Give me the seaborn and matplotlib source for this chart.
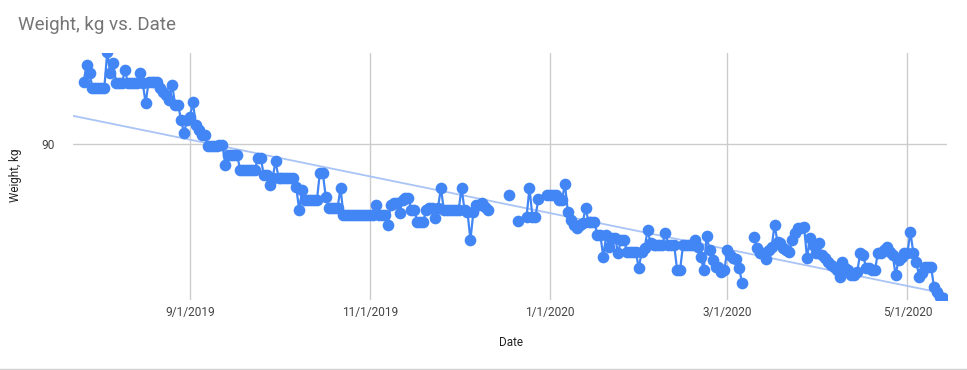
import numpy as np
import pandas as pd
import matplotlib
matplotlib.use("Agg")
import matplotlib.pyplot as plt
import matplotlib.dates as mdates
from matplotlib.lines import Line2D
import seaborn as sns

# ---------------- data ----------------
start_date = "2019-07-27"
# daily weight readings (kg); None = no reading that day
weights = [
    93.1, 93.95, 93.55, 92.8, 92.8, 92.8, 92.8, 92.8, 94.6, 93.55,
    94.05, 93.05, 93.05, 93.05, 93.7, 93.05, 93.05, 93.05, 93.05, 93.55,
    93.05, 92.05, 93.1, 93.1, 93.1, 93.1, 92.8, 92.6, 92.45, 92.2,
    92.95, 91.95, 91.95, 91.2, 90.55, 91.2, 91.35, 92.1, 90.95, 90.7,
    90.45, 90.45, 89.9, 89.9, 89.9, 89.9, 89.95, 89.95, 88.95, 89.45,
    89.45, 89.45, 89.45, 88.7, 88.7, 88.7, 88.7, 88.7, 88.7, 89.3,
    89.3, 88.45, 88.45, 87.95, 88.3, 89.15, 88.3, 88.3, 88.3, 88.3,
    88.3, 88.3, 87.85, 86.7, 87.7, 87.2, 87.2, 87.2, 87.2, 87.2,
    88.55, 88.55, 87.35, 86.8, 86.8, 86.8, 86.8, 87.8, 86.45, 86.45,
    86.45, 86.45, 86.45, 86.45, 86.45, 86.45, 86.45, 86.45, 86.45, 86.95,
    86.45, 86.45, 86.45, 85.95, 86.95, 87.05, 87.05, 86.55, 87.2, 87.3,
    87.3, 86.7, 86.7, 86.1, 86.1, 86.1, 86.7, 86.8, 86.8, 86.3,
    86.8, 87.8, 86.7, 86.7, 86.7, 86.7, 86.7, 86.7, 87.8, 86.7,
    86.6, 85.2, 86.6, 86.95, 86.95, 87.05, 86.85, 86.7, None, None,
    None, None, None, None, 87.45, None, None, 86.15, None, None,
    86.35, 87.8, 86.35, 86.35, 87.25, None, None, 87.45, 87.45, 87.45,
    87.45, 87.2, 87.2, 88.0, 86.6, 86.2, 85.95, 85.8, 85.95, 86.05,
    86.8, 86.1, 86.1, 86.1, 85.45, 85.45, 84.35, 85.45, 84.85, 85.3,
    85.3, 84.55, 85.2, 85.2, 84.6, 84.6, 84.6, 84.6, 83.8, 84.6,
    84.8, 85.7, 85.05, 84.95, 84.95, 84.95, 84.95, 85.55, 84.95, 84.95,
    84.95, 83.7, 83.7, 84.95, 84.95, 84.95, 84.95, 85.2, 84.85, 84.35,
    83.7, 85.4, 84.7, 84.2, 83.85, 83.85, 83.6, 83.7, 84.7, 84.45,
    84.3, 84.25, 83.8, 83.05, None, None, None, 85.35, 84.8, 84.55,
    84.55, 84.25, 84.7, 84.85, 85.95, 85.1, 85.05, 84.8, 84.7, 84.6,
    85.2, 85.55, 85.8, 85.8, 85.85, 84.3, 85.3, 84.95, 84.55, 85.05,
    84.45, 84.3, 84.1, 83.95, 83.85, 83.7, 83.35, 84.1, 83.8, 83.7,
    83.45, 83.45, 83.6, 84.55, 84.45, 83.8, 83.8, 83.7, 83.7, 84.55,
    84.55, 84.7, 84.85, 84.6, 84.45, 83.45, 84.2, 84.35, 84.55, 84.55,
    85.6, 84.55, 84.1, 83.35, 83.55, 83.85, 83.85, 83.85, 82.85, 82.6,
    82.35, 82.3,
]
tick_dates = ["2019-09-01", "2019-11-01", "2020-01-01", "2020-03-01", "2020-05-01"]
tick_labels = ["9/1/2019", "11/1/2019", "1/1/2020", "3/1/2020", "5/1/2020"]
y_ticks = [90]

# ---------------- frame ----------------
dates = pd.date_range(start_date, periods=len(weights), freq="D")
df = pd.DataFrame({"date": dates, "weight": pd.to_numeric(pd.Series(weights), errors="coerce")})
df["x"] = mdates.date2num(df["date"])
df["segment"] = df["weight"].isna().cumsum()
obs = df.dropna().copy()

sns.set_theme(style="white")
plt.rcParams["font.family"] = ["Roboto", "DejaVu Sans"]

W, H = 967, 370
fig = plt.figure(figsize=(W / 100, H / 100), dpi=100)
L, R, T, B = 73, 947, 53, 300
ax = fig.add_axes([L / W, 1 - B / H, (R - L) / W, (B - T) / H])

x0 = mdates.date2num(pd.Timestamp(start_date))
ax.set_xlim(x0 - 3.6, x0 + 292.4)
ax.set_ylim(82.2, 94.55)

# trendline
sns.regplot(data=obs, x="x", y="weight", scatter=False, ci=None, truncate=False,
            line_kws=dict(color="#a9c4f5", lw=1.3, zorder=2), ax=ax)

# data line + markers
sns.lineplot(data=obs, x="x", y="weight", units="segment", estimator=None,
             color="#4285f4", lw=1.6, marker="o", markersize=8.4,
             markeredgewidth=0, legend=False, ax=ax, zorder=3)

ax.set_xlim(x0 - 3.6, x0 + 292.4)
ax.set_ylim(82.2, 94.55)

ax.set_xticks(mdates.date2num(pd.to_datetime(tick_dates)))
ax.set_xticklabels(tick_labels)
ax.set_yticks(y_ticks)
ax.set_yticklabels([str(v) for v in y_ticks])
ax.grid(True, color="#cccccc", lw=1.0)
ax.set_axisbelow(True)
for s in ax.spines.values():
    s.set_visible(False)
ax.tick_params(axis="x", length=0, pad=4, labelsize=8.6, labelcolor="#444444")
ax.tick_params(axis="y", length=0, pad=13, labelsize=8.6, labelcolor="#444444")

ax.set_xlabel("Date", fontsize=8.4, color="#222222")
ax.set_ylabel("Weight, kg", fontsize=8.4, color="#222222")
ax.xaxis.set_label_coords((511 - L) / (R - L), (B - 336) / (B - T))
ax.yaxis.set_label_coords((22 - L) / (R - L), (B - 175) / (B - T))

fig.text(18 / W, 1 - 25 / H, "Weight, kg vs. Date", fontsize=13.5, color="#757575",
         ha="left", va="center")

fig.add_artist(Line2D([0, 1], [1.5 / H, 1.5 / H], color="#d0d0d0", lw=1.0))

fig.savefig("out.png", dpi=100)
